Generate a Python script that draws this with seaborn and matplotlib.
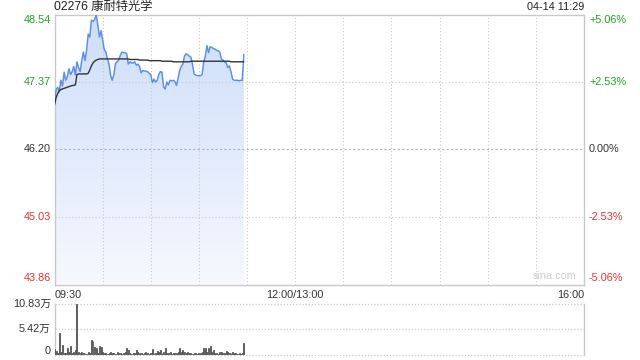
import numpy as np
import pandas as pd
import matplotlib
matplotlib.use("Agg")
import matplotlib.pyplot as plt
import seaborn as sns
from matplotlib.colors import LinearSegmentedColormap

# ---------------- data ----------------
title_code = "02276"
title_name = "康耐特光学"
stamp_text = "04-14 11:29"
price_ticks = [43.86, 45.03, 46.20, 47.37, 48.54]
pct_labels = ["-5.06%", "-2.53%", "0.00%", "+2.53%", "+5.06%"]
x_tick_labels = ["09:30", "12:00/13:00", "16:00"]
vol_tick_labels = ["0", "5.42万", "10.83万"]
vol_ticks = [0, 5.415, 10.83]

price = [
    47.02, 47.23, 47.28, 47.20, 47.40, 47.30, 47.54, 47.40, 47.46, 47.60,
    47.50, 47.55, 47.64, 47.49, 47.72, 47.62, 47.55, 47.74, 47.89, 47.74,
    47.92, 48.20, 48.15, 48.44, 48.42, 48.45, 48.54, 48.36, 48.15, 48.26,
    48.10, 47.93, 47.89, 47.77, 47.68, 47.48, 47.40, 47.50, 47.69, 47.72,
    47.75, 47.83, 47.89, 47.88, 47.88, 47.86, 47.68, 47.72, 47.70, 47.70,
    47.72, 47.66, 47.68, 47.64, 47.53, 47.57, 47.56, 47.56, 47.55, 47.52,
    47.50, 47.36, 47.42, 47.37, 47.40, 47.50, 47.55, 47.54, 47.28, 47.25,
    47.37, 47.32, 47.40, 47.39, 47.40, 47.38, 47.31, 47.43, 47.57, 47.64,
    47.68, 47.82, 47.86, 47.84, 47.82, 47.80, 47.68, 47.51, 47.49, 47.48,
    47.48, 47.48, 47.50, 47.72, 47.82, 48.00, 47.88, 47.98, 47.97, 47.95,
    47.94, 47.92, 47.91, 47.89, 47.77, 47.75, 47.72, 47.70, 47.62, 47.65,
    47.55, 47.42, 47.40, 47.40, 47.40, 47.39, 47.40, 47.40, 47.85,
]

avg_price = [
    46.97, 47.10, 47.17, 47.22, 47.24, 47.25, 47.26, 47.27, 47.28, 47.29,
    47.30, 47.31, 47.31, 47.32, 47.50, 47.51, 47.51, 47.51, 47.51, 47.51,
    47.51, 47.52, 47.58, 47.65, 47.70, 47.73, 47.75, 47.76, 47.77, 47.77,
    47.77, 47.77, 47.77, 47.77, 47.77, 47.77, 47.77, 47.77, 47.77, 47.77,
    47.77, 47.77, 47.77, 47.77, 47.77, 47.77, 47.77, 47.76, 47.76, 47.76,
    47.76, 47.76, 47.76, 47.75, 47.75, 47.75, 47.75, 47.75, 47.75, 47.74,
    47.74, 47.74, 47.74, 47.74, 47.74, 47.74, 47.74, 47.73, 47.73, 47.73,
    47.73, 47.73, 47.73, 47.73, 47.72, 47.72, 47.72, 47.72, 47.72, 47.72,
    47.72, 47.72, 47.72, 47.72, 47.72, 47.73, 47.73, 47.73, 47.73, 47.73,
    47.73, 47.73, 47.73, 47.73, 47.73, 47.73, 47.73, 47.73, 47.73, 47.73,
    47.73, 47.73, 47.73, 47.73, 47.73, 47.73, 47.73, 47.73, 47.73, 47.73,
    47.72, 47.72, 47.72, 47.72, 47.72, 47.72, 47.72, 47.72, 47.72,
]

volume_wan = [
    1.1, 0.8, 0.4, 4.7, 0.5, 2.1, 0.4, 0.3, 1.3, 0.6,
    1.8, 0.4, 0.6, 0.9, 10.83, 0.5, 0.3, 0.6, 0.3, 0.4,
    0.2, 0.5, 0.4, 3.2, 3.0, 1.6, 1.5, 0.3, 1.8, 1.7,
    0.5, 0.3, 0.4, 0.2, 0.3, 0.6, 0.4, 0.3, 0.2, 0.5,
    0.4, 0.3, 0.2, 0.3, 0.5, 1.3, 1.0, 0.3, 0.2, 0.4,
    0.3, 0.9, 0.5, 0.3, 0.4, 0.2, 0.3, 0.5, 0.3, 0.2,
    0.3, 1.2, 0.4, 0.3, 0.8, 0.5, 0.9, 0.3, 0.5, 1.3,
    0.4, 0.3, 0.5, 0.2, 0.3, 0.4, 0.3, 0.5, 1.4, 0.6,
    0.9, 0.5, 0.3, 0.6, 0.4, 0.3, 0.2, 0.4, 0.3, 0.2,
    0.3, 0.4, 0.6, 1.3, 1.3, 0.6, 1.5, 1.8, 0.5, 0.9,
    0.3, 0.4, 0.2, 0.5, 0.6, 0.4, 0.3, 0.7, 0.5, 0.4,
    0.3, 0.6, 0.4, 0.3, 0.2, 0.3, 0.2, 0.3, 2.4,
]

minutes = list(range(len(price)))
df = pd.DataFrame({"minute": minutes, "price": price, "avg": avg_price, "vol": volume_wan})

# ---------------- style ----------------
sns.set_theme(style="white")
plt.rcParams["font.family"] = ["Liberation Sans", "Noto Sans CJK SC", "DejaVu Sans"]

GREEN = "#1fa51f"
RED = "#e8312f"
DARK = "#333333"
GRID = "#c8c8c8"
BORDER = "#c9c9c9"
LINE = "#5b8ee9"
FS = 7.8

W, H = 640, 360
fig = plt.figure(figsize=(6.4, 3.6), dpi=100)
L, R = 54.5, 584.0
T1, B1 = 14.5, 284.5
T2, B2 = 304.0, 354.5
ax = fig.add_axes([L / W, 1 - B1 / H, (R - L) / W, (B1 - T1) / H])
axv = fig.add_axes([L / W, 1 - B2 / H, (R - L) / W, (B2 - T2) / H])

ymin, ymax = price_ticks[0], price_ticks[-1]
TOTAL = 330

# gradient fill under price
verts = [(0, ymin)] + list(zip(minutes, price)) + [(minutes[-1], ymin)]
poly = plt.Polygon(verts, closed=True, facecolor="none", edgecolor="none")
ax.add_patch(poly)
grad = np.linspace(0, 1, 256).reshape(-1, 1)
cmap = LinearSegmentedColormap.from_list("g", ["#f6f8fe", "#cddefa"])
im = ax.imshow(grad, aspect="auto", cmap=cmap, origin="lower",
               extent=[0, minutes[-1], ymin, max(price)], zorder=1)
im.set_clip_path(poly)

sns.lineplot(data=df, x="minute", y="price", ax=ax, color=LINE, linewidth=1.05, zorder=3)
sns.lineplot(data=df, x="minute", y="avg", ax=ax, color=DARK, linewidth=1.0, zorder=4)

ax.set_xlim(0, TOTAL)
ax.set_ylim(ymin, ymax)
ax.set_xlabel("")
ax.set_ylabel("")
ax.set_xticks([])
ax.set_yticks([])
for s in ax.spines.values():
    s.set_color(BORDER)
    s.set_linewidth(1.0)

for k in range(1, 11):
    ax.axvline(k * 30, color=GRID, linewidth=0.8, linestyle=(0, (1, 2)), zorder=2)
for p in price_ticks[1:-1]:
    ax.axhline(p, color=GRID if p != 46.20 else "#b0b0b0", linewidth=0.8,
               linestyle=(0, (1, 2)) if p != 46.20 else (0, (2, 2)), zorder=2)

# left price labels / right percent labels
lcol = [RED, RED, DARK, GREEN, GREEN]
for i, (p, c) in enumerate(zip(price_ticks, lcol)):
    off = 0
    if i == 0:
        off = 6.5
    if i == len(price_ticks) - 1:
        off = -5.5
    ax.annotate(f"{p:.2f}", xy=(0, p), xycoords=("axes fraction", "data"),
                xytext=(-3.5, off), textcoords="offset pixels",
                ha="right", va="center", fontsize=FS, color=c)
    ax.annotate(pct_labels[i], xy=(1, p), xycoords=("axes fraction", "data"),
                xytext=(5, off), textcoords="offset pixels",
                ha="left", va="center", fontsize=FS, color=c)

# time labels
ax.annotate(x_tick_labels[0], xy=(0, 0), xycoords="axes fraction", xytext=(0, -10),
            textcoords="offset pixels", ha="left", va="center", fontsize=FS, color=DARK)
ax.annotate(x_tick_labels[1], xy=(150, ymin), xycoords="data", xytext=(0, -10),
            textcoords="offset pixels", ha="center", va="center", fontsize=FS, color=DARK)
ax.annotate(x_tick_labels[2], xy=(1, 0), xycoords="axes fraction", xytext=(0, -10),
            textcoords="offset pixels", ha="right", va="center", fontsize=FS, color=DARK)

# title and stamp
fig.text(L / W, 1 - 7 / H, title_code + " " + title_name, ha="left", va="center",
         fontsize=8.8, color="#222222")
fig.text(R / W, 1 - 7 / H, stamp_text, ha="right", va="center", fontsize=FS, color="#222222")
ax.text(0.985, 0.03, "sina.com", transform=ax.transAxes, ha="right", va="center",
        fontsize=FS, color="#cccccc")

# volume (seaborn draws the bars, thin stems keep each 1 px bar visible)
sns.barplot(data=df, x="minute", y="vol", ax=axv, native_scale=True, color="#555555",
            width=0.6, errorbar=None, saturation=1, zorder=3, edgecolor="#555555",
            linewidth=0.6)
axv.set_xlim(0, TOTAL)
axv.set_ylim(0, vol_ticks[-1])
axv.set_xlabel("")
axv.set_ylabel("")
axv.set_xticks([])
axv.set_yticks([])
for side in ["top", "bottom"]:
    axv.spines[side].set_visible(False)
for side in ["left", "right"]:
    axv.spines[side].set_color(BORDER)
    axv.spines[side].set_linewidth(1.0)
for v in vol_ticks:
    axv.axhline(v, color=GRID, linewidth=0.9, linestyle=(0, (1, 1.5)), zorder=2, clip_on=False)
for v, lab in zip(vol_ticks, vol_tick_labels):
    off = 3 if v == 0 else 0
    axv.annotate(lab, xy=(0, v), xycoords=("axes fraction", "data"), xytext=(-3.5, off),
                 textcoords="offset pixels", ha="right", va="center", fontsize=FS, color=DARK)

fig.savefig("out.png", dpi=100)
